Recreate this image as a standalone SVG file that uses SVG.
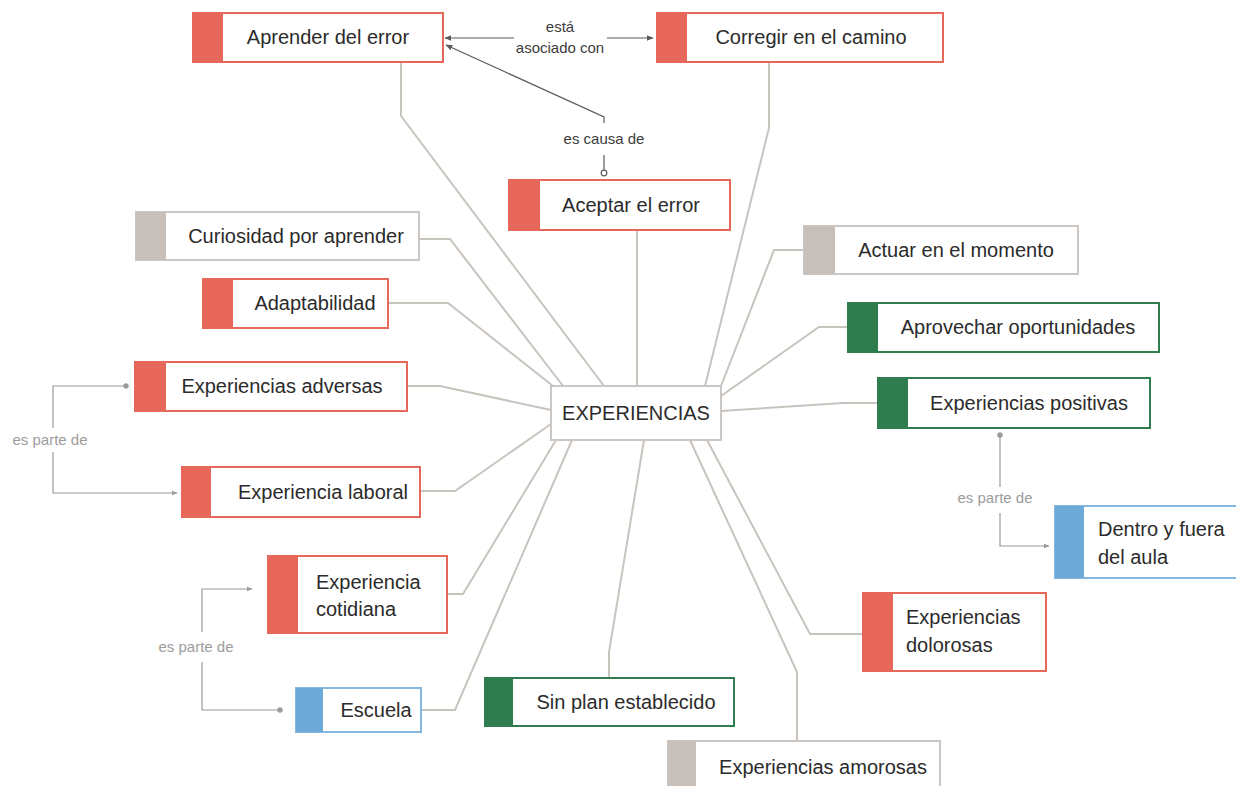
<svg xmlns="http://www.w3.org/2000/svg" width="1236" height="786" viewBox="0 0 1236 786">
  <style>
    .box { fill: #ffffff; stroke-width: 2; }
    .red .box { stroke: #e8675b; }
    .red .bar { fill: #e8675b; }
    .gray .box { stroke: #cdc7c3; }
    .gray .bar { fill: #c6bfba; }
    .green .box { stroke: #2f7d4e; }
    .green .bar { fill: #2f7d4e; }
    .blue .box { stroke: #85b8e0; }
    .blue .bar { fill: #6eaad8; }
    .center .box { stroke: #cdc7c3; }
    text { font-family: "Liberation Sans", Arial, sans-serif; fill: #2b2b2b; }
    .lbl { font-size: 20px; }
    .mid { text-anchor: middle; }
    .rel { font-size: 15px; fill: #3c3c3c; text-anchor: middle; }
    .part { font-size: 15px; fill: #9c9c9c; text-anchor: middle; }
    .spoke { fill: none; stroke: #c9c3be; stroke-width: 2; }
    .rel-line { fill: none; stroke: #5a5a5a; stroke-width: 1.2; }
    .part-line { fill: none; stroke: #9a9a9a; stroke-width: 1.2; }
  </style>
  <defs>
    <marker id="arrowDark" viewBox="0 0 10 10" refX="9" refY="5" markerWidth="7" markerHeight="7" orient="auto-start-reverse" markerUnits="userSpaceOnUse">
      <path d="M0,1 L10,5 L0,9 z" fill="#5a5a5a"/>
    </marker>
    <marker id="arrowLight" viewBox="0 0 10 10" refX="9" refY="5" markerWidth="6" markerHeight="6" orient="auto" markerUnits="userSpaceOnUse">
      <path d="M0,1 L10,5 L0,9 z" fill="#9a9a9a"/>
    </marker>
    <marker id="dotLight" viewBox="0 0 10 10" refX="5" refY="5" markerWidth="6" markerHeight="6" markerUnits="userSpaceOnUse">
      <circle cx="5" cy="5" r="4.5" fill="#9a9a9a"/>
    </marker>
  </defs>

  <rect width="1236" height="786" fill="#ffffff"/>

  <!-- connectors -->
  <g id="connectors">
    <!-- spokes to the central concept -->
    <polyline class="spoke" points="401,62 401,116 604,386"/>
    <polyline class="spoke" points="769,62 769,128 705,386"/>
    <polyline class="spoke" points="637,230 637,386"/>
    <polyline class="spoke" points="420,239 450,239 563,386"/>
    <polyline class="spoke" points="389,303 448,303 553,386"/>
    <polyline class="spoke" points="408,386 440,386 551,410"/>
    <polyline class="spoke" points="421,491 455,491 551,424"/>
    <polyline class="spoke" points="448,594 463,594 556,440"/>
    <polyline class="spoke" points="422,710 455,710 572,440"/>
    <polyline class="spoke" points="609,678 609,652 644,440"/>
    <polyline class="spoke" points="797,741 797,672 690,440"/>
    <polyline class="spoke" points="863,634 810,634 707,440"/>
    <polyline class="spoke" points="878,403 843,403 721,411"/>
    <polyline class="spoke" points="848,327 819,327 721,396"/>
    <polyline class="spoke" points="804,250 774,250 721,386"/>

    <!-- está asociado con -->
    <line class="rel-line" x1="514" y1="38" x2="445" y2="38" marker-end="url(#arrowDark)"/>
    <line class="rel-line" x1="607" y1="38" x2="653" y2="38" marker-end="url(#arrowDark)"/>
    <text class="rel" x="560" y="32">está</text>
    <text class="rel" x="560" y="53">asociado con</text>

    <!-- es causa de -->
    <polyline class="rel-line" points="604,123 604,117 446,45" marker-end="url(#arrowDark)"/>
    <line class="rel-line" x1="604" y1="155" x2="604" y2="170"/>
    <circle cx="604" cy="173" r="2.8" fill="#ffffff" stroke="#5a5a5a" stroke-width="1.2"/>
    <text class="rel" x="604" y="144">es causa de</text>

    <!-- es parte de: adversas / laboral -->
    <polyline class="part-line" points="126,386 53,386 53,428" marker-start="url(#dotLight)"/>
    <polyline class="part-line" points="53,452 53,493 177,493" marker-end="url(#arrowLight)"/>
    <text class="part" x="50" y="445">es parte de</text>

    <!-- es parte de: cotidiana / escuela -->
    <polyline class="part-line" points="202,632 202,589 252,589" marker-end="url(#arrowLight)"/>
    <polyline class="part-line" points="202,662 202,710 280,710" marker-end="url(#dotLight)"/>
    <text class="part" x="196" y="652">es parte de</text>

    <!-- es parte de: positivas / dentro y fuera del aula -->
    <polyline class="part-line" points="1000,435 1000,487" marker-start="url(#dotLight)"/>
    <polyline class="part-line" points="1000,513 1000,546 1049,546" marker-end="url(#arrowLight)"/>
    <text class="part" x="995" y="503">es parte de</text>
  </g>

  <!-- nodes -->
  <g id="n-aprender" class="red">
    <rect class="box" x="193" y="13" width="250" height="49"/>
    <rect class="bar" x="193" y="13" width="30" height="49"/>
    <text class="lbl mid" x="328" y="44">Aprender del error</text>
  </g>
  <g id="n-corregir" class="red">
    <rect class="box" x="657" y="13" width="286" height="49"/>
    <rect class="bar" x="657" y="13" width="30" height="49"/>
    <text class="lbl mid" x="811" y="44">Corregir en el camino</text>
  </g>
  <g id="n-aceptar" class="red">
    <rect class="box" x="509" y="180" width="221" height="50"/>
    <rect class="bar" x="509" y="180" width="31" height="50"/>
    <text class="lbl mid" x="631" y="212">Aceptar el error</text>
  </g>
  <g id="n-curiosidad" class="gray">
    <rect class="box" x="136" y="212" width="283" height="48"/>
    <rect class="bar" x="136" y="212" width="30" height="48"/>
    <text class="lbl mid" x="296" y="243">Curiosidad por aprender</text>
  </g>
  <g id="n-adaptabilidad" class="red">
    <rect class="box" x="203" y="279" width="185" height="49"/>
    <rect class="bar" x="203" y="279" width="30" height="49"/>
    <text class="lbl mid" x="315" y="310">Adaptabilidad</text>
  </g>
  <g id="n-adversas" class="red">
    <rect class="box" x="135" y="362" width="272" height="49"/>
    <rect class="bar" x="135" y="362" width="31" height="49"/>
    <text class="lbl mid" x="282" y="393">Experiencias adversas</text>
  </g>
  <g id="n-laboral" class="red">
    <rect class="box" x="182" y="467" width="238" height="50"/>
    <rect class="bar" x="182" y="467" width="29" height="50"/>
    <text class="lbl mid" x="323" y="499">Experiencia laboral</text>
  </g>
  <g id="n-cotidiana" class="red">
    <rect class="box" x="268" y="556" width="179" height="77"/>
    <rect class="bar" x="268" y="556" width="30" height="77"/>
    <text class="lbl" x="316" y="589">Experiencia</text>
    <text class="lbl" x="316" y="616">cotidiana</text>
  </g>
  <g id="n-escuela" class="blue">
    <rect class="box" x="296" y="688" width="125" height="44"/>
    <rect class="bar" x="296" y="688" width="27" height="44"/>
    <text class="lbl mid" x="376" y="717">Escuela</text>
  </g>
  <g id="n-sinplan" class="green">
    <rect class="box" x="485" y="678" width="249" height="48"/>
    <rect class="bar" x="485" y="678" width="28" height="48"/>
    <text class="lbl mid" x="626" y="709">Sin plan establecido</text>
  </g>
  <g id="n-amorosas" class="gray">
    <rect class="box" x="668" y="741" width="272" height="52"/>
    <rect class="bar" x="668" y="741" width="28" height="52"/>
    <text class="lbl mid" x="823" y="774">Experiencias amorosas</text>
  </g>
  <g id="n-dolorosas" class="red">
    <rect class="box" x="863" y="593" width="183" height="78"/>
    <rect class="bar" x="863" y="593" width="30" height="78"/>
    <text class="lbl" x="906" y="624">Experiencias</text>
    <text class="lbl" x="906" y="652">dolorosas</text>
  </g>
  <g id="n-dentro" class="blue">
    <rect class="box" x="1055" y="506" width="195" height="72"/>
    <rect class="bar" x="1055" y="506" width="29" height="72"/>
    <text class="lbl" x="1098" y="536">Dentro y fuera</text>
    <text class="lbl" x="1098" y="564">del aula</text>
  </g>
  <g id="n-positivas" class="green">
    <rect class="box" x="878" y="378" width="272" height="50"/>
    <rect class="bar" x="878" y="378" width="30" height="50"/>
    <text class="lbl mid" x="1029" y="410">Experiencias positivas</text>
  </g>
  <g id="n-aprovechar" class="green">
    <rect class="box" x="848" y="303" width="311" height="49"/>
    <rect class="bar" x="848" y="303" width="30" height="49"/>
    <text class="lbl mid" x="1018" y="334">Aprovechar oportunidades</text>
  </g>
  <g id="n-actuar" class="gray">
    <rect class="box" x="804" y="226" width="274" height="48"/>
    <rect class="bar" x="804" y="226" width="31" height="48"/>
    <text class="lbl mid" x="956" y="257">Actuar en el momento</text>
  </g>
  <g id="n-experiencias" class="center">
    <rect class="box" x="551" y="386" width="170" height="54"/>
    <text class="lbl mid" x="636" y="420">EXPERIENCIAS</text>
  </g>
</svg>
